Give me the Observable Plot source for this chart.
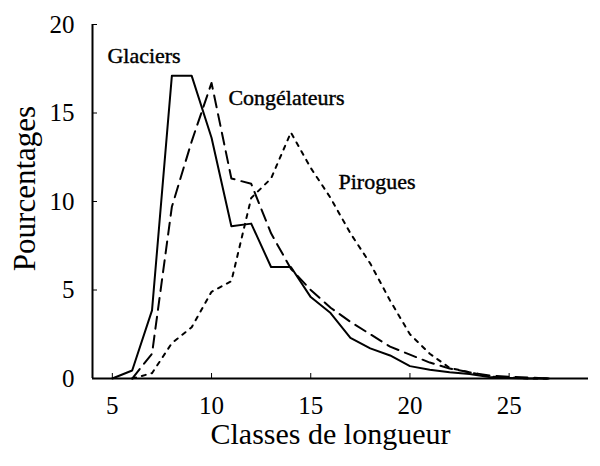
<!DOCTYPE html>
<html><head><meta charset="utf-8">
<script src="https://cdn.jsdelivr.net/npm/d3@7"></script>
<script src="https://cdn.jsdelivr.net/npm/@observablehq/plot@0.6"></script>
<style>body{margin:0;background:#fff;}</style>
</head><body><div id="chart"></div>
<script>
const classes      = [5, 6, 7, 8, 9, 10, 11, 12, 13, 14, 15, 16, 17, 18, 19, 20, 21, 22, 23, 24, 25, 26, 27];
const glaciers     = [0, 0.45, 3.85, 17.1, 17.1, 13.6, 8.6, 8.75, 6.3, 6.3, 4.6, 3.7, 2.3, 1.7, 1.3, 0.7, 0.5, 0.35, 0.25, 0.08, 0.03, 0, 0];
const congelateurs = [null, 0, 1.4, 9.7, 13.4, 16.7, 11.3, 11.0, 8.2, 6.2, 5.0, 4.0, 3.2, 2.5, 1.8, 1.35, 0.9, 0.56, 0.35, 0.17, 0.1, 0.05, 0];
const pirogues     = [null, 0, 0.3, 2.0, 2.9, 4.9, 5.5, 10.2, 11.3, 13.9, 11.9, 10.2, 8.2, 6.5, 4.4, 2.5, 1.4, 0.6, 0.35, 0.12, 0.05, 0, 0];
const seriesNames  = ["Glaciers", "Congélateurs", "Pirogues"];
const labelX       = [4.75, 10.85, 16.4];
const labelY       = [18.2, 15.85, 11.1];
const xTicks       = [5, 10, 15, 20, 25];
const yTicks       = [0, 5, 10, 15, 20];
const xDomain      = [4, 29];
const yDomain      = [0, 20];

const serif = "'Liberation Serif', 'Times New Roman', serif";
const seriesValues = [glaciers, congelateurs, pirogues];
const dashes = ["none", "12,7", "4,6"];
const rows = seriesNames.flatMap((s, k) => classes.map((c, i) => ({serie: s, x: c, y: seriesValues[k][i]})));
const labels = seriesNames.map((s, k) => ({name: s, x: labelX[k], y: labelY[k]}));

const chart = Plot.plot({
  width: 600, height: 466,
  marginLeft: 92, marginRight: 12, marginTop: 24, marginBottom: 88,
  style: {fontFamily: serif, background: "#fff", color: "#000"},
  x: {domain: xDomain},
  y: {domain: yDomain},
  marks: [
    Plot.axisX({ticks: xTicks, tickSize: 0, tickPadding: 18, fontSize: 25, fontFamily: serif, label: null}),
    Plot.axisX({ticks: xTicks, tickSize: -5, text: null, label: null}),
    Plot.axisY({ticks: yTicks, tickSize: 0, tickPadding: 18, fontSize: 25, fontFamily: serif, label: null}),
    Plot.axisY({ticks: yTicks, tickSize: -5, text: null, label: null}),
    Plot.ruleY([yDomain[0]], {stroke: "#000", strokeWidth: 2}),
    Plot.ruleX([xDomain[0]], {stroke: "#000", strokeWidth: 2}),
    ...seriesNames.map((s, k) => Plot.lineY(rows.filter(d => d.serie === s && d.y != null), {
      x: "x", y: "y", stroke: "#000", strokeWidth: 2, strokeDasharray: dashes[k]
    })),
    Plot.text(labels, {x: "x", y: "y", text: "name", textAnchor: "start", fontSize: 22, fontFamily: serif, fill: "#000", stroke: "#000", strokeWidth: 0.4}),
    Plot.text(["Classes de longueur"], {frameAnchor: "bottom", textAnchor: "middle", lineAnchor: "middle", dy: 56, dx: -10, fontSize: 30, fontFamily: serif, fill: "#000"}),
    Plot.text(["Pourcentages"], {frameAnchor: "left", textAnchor: "middle", lineAnchor: "middle", dx: -67, dy: -13, rotate: -90, fontSize: 31, fontFamily: serif, fill: "#000"})
  ]
});
document.getElementById("chart").appendChild(chart);
</script>
</body></html>
